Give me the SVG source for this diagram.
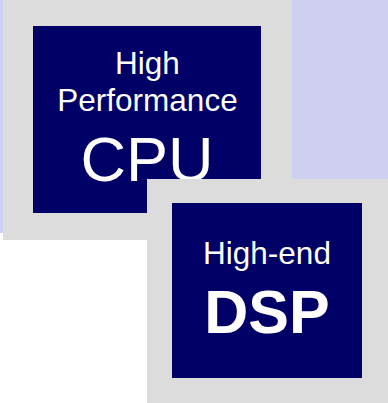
<svg xmlns="http://www.w3.org/2000/svg" width="388" height="403" viewBox="0 0 388 403">
<style>
.frame{fill:#DCDCDC}
.chip{fill:#000066}
.t{fill:#FFFFFF;font-family:"Liberation Sans",Arial,sans-serif;text-anchor:middle}
</style>
<rect x="0" y="0" width="388" height="233" fill="#CFCFF2"/>
<g id="cpu">
<rect class="frame" x="3" y="0" width="289" height="240"/>
<rect class="chip" x="33" y="26" width="228" height="187"/>
<text class="t" x="147.5" y="74" font-size="31.5">High</text>
<text class="t" x="147.5" y="111" font-size="31.5">Performance</text>
<text class="t" x="147" y="181" font-size="63">CPU</text>
</g>
<g id="dsp">
<rect class="frame" x="147" y="179" width="241" height="224"/>
<rect class="chip" x="172" y="203" width="190" height="175"/>
<text class="t" x="267" y="264" font-size="31.5">High-end</text>
<text class="t" x="267" y="333" font-size="61" font-weight="bold">DSP</text>
</g>
<g id="connectors"/>
</svg>
